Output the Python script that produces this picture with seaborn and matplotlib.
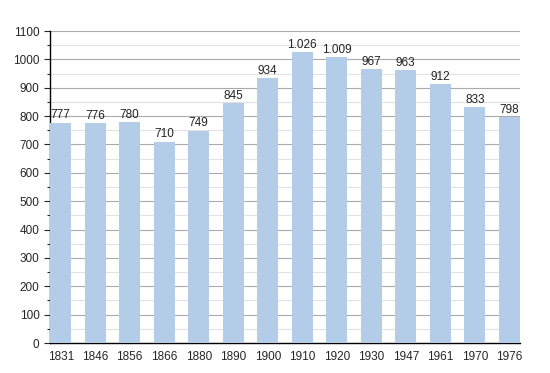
import matplotlib
matplotlib.use("Agg")
import matplotlib.pyplot as plt
import seaborn as sns
import pandas as pd
from matplotlib.ticker import MultipleLocator

years = ["1831", "1846", "1856", "1866", "1880", "1890", "1900", "1910", "1920", "1930", "1947", "1961", "1970", "1976"]
population = [777, 776, 780, 710, 749, 845, 934, 1026, 1009, 967, 963, 912, 833, 798]
labels = ["777", "776", "780", "710", "749", "845", "934", "1.026", "1.009", "967", "963", "912", "833", "798"]

df = pd.DataFrame({"year": years, "pop": population})

sns.set_style("white")
plt.rcParams["font.family"] = ["Liberation Sans", "DejaVu Sans"]

fig = plt.figure(figsize=(5.5, 3.73), dpi=100)
ax = fig.add_axes([50 / 550, 30 / 373, 470 / 550, 312 / 373])

bw = 0.62
sns.barplot(data=df, x="year", y="pop", color="#b3cde8", saturation=1, width=bw,
            linewidth=0, ax=ax, zorder=3)

# value labels on top of each bar
for i, (v, t) in enumerate(zip(population, labels)):
    ax.text(i, v + 4, t, ha="center", va="bottom", fontsize=8.5, color="#222222", zorder=4)

ax.set_xlim(-bw / 2, len(years) - 1 + bw / 2)
ax.set_ylim(0, 1100)
ax.yaxis.set_major_locator(MultipleLocator(100))
ax.yaxis.set_minor_locator(MultipleLocator(50))
ax.grid(axis="y", which="major", color="#aaaaaa", linewidth=0.8, zorder=0)
ax.grid(axis="y", which="minor", color="#e2e2e2", linewidth=0.8, zorder=0)
ax.set_axisbelow(True)

for s in ["top", "right"]:
    ax.spines[s].set_visible(False)
ax.spines["left"].set_color("black")
ax.spines["bottom"].set_color("black")
ax.spines["left"].set_linewidth(1)
ax.spines["bottom"].set_linewidth(1)

ax.tick_params(axis="y", which="major", left=True, length=4, width=0.8, labelsize=8.5)
ax.tick_params(axis="y", which="minor", left=True, length=2, width=0.8)
ax.tick_params(axis="x", bottom=False, labelsize=8.5, pad=2)
ax.set_xlabel("")
ax.set_ylabel("")

fig.savefig("out.png", dpi=100)
